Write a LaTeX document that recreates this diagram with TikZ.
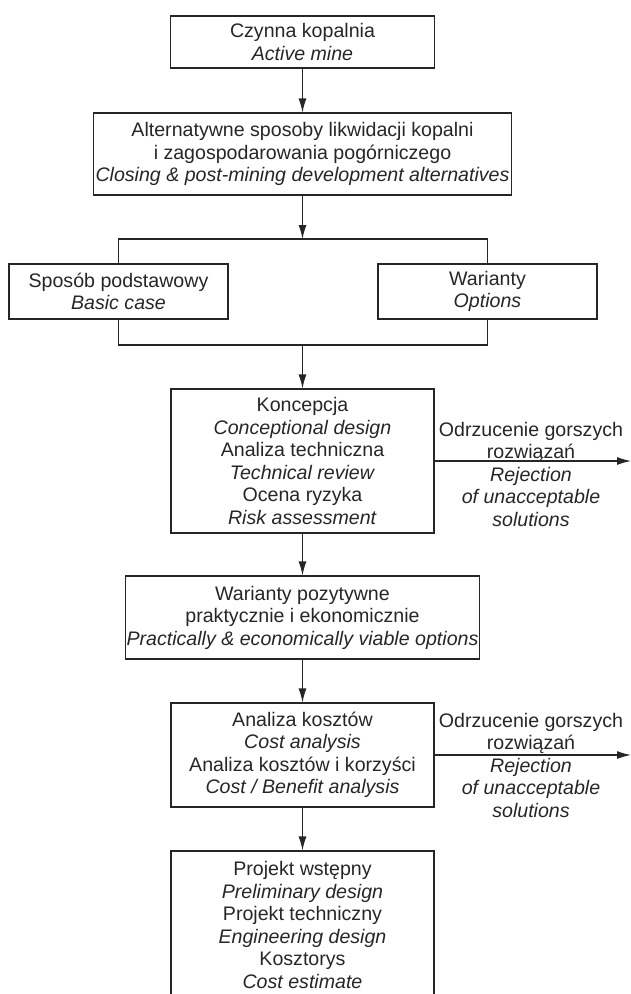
\documentclass[tikz,border=0pt]{standalone}
\usepackage{fontspec}
\setmainfont{Liberation Sans}
\usetikzlibrary{arrows.meta}

\tikzset{
	box/.style={draw,line width=1.2pt,align=center,inner sep=0pt,minimum height=#1},
	box/.default=52pt,
	txt/.style={align=center,inner sep=0pt},
	>={Latex[length=14pt,width=8pt]}
}

\begin{document}
\begin{tikzpicture}[x=1pt,y=-1pt,font=\fontsize{19.6}{22.5}\selectfont,line width=1.2pt,color=black!85]
		\useasboundingbox (0,0) rectangle (631,994);
		\clip (0,0) rectangle (631,994);

		\node[box=52pt,minimum width=264pt] (mine)at(302.5,42){Czynna kopalnia\\\textit{Active mine}};
		\node[box=82pt,minimum width=418pt] (alt)at(302.5,154){Alternatywne sposoby likwidacji kopalni\\i zagospodarowania pogórniczego\\\textit{Closing \& post-mining development alternatives}};

		\node[box=55pt,minimum width=219pt] (basic)at(118.5,291.5){Sposób podstawowy\\\textit{Basic case}};
		\node[box=55pt,minimum width=219pt] (opts)at(487.5,291.5){Warianty\\\textit{Options}};

		\node[box=144pt,minimum width=263pt] (concept)at(302.5,461){Koncepcja\\\textit{Conceptional design}\\Analiza techniczna\\\textit{Technical review}\\Ocena ryzyka\\\textit{Risk assessment}};
		\node[box=83pt,minimum width=354pt] (viable)at(302.5,617.5){Warianty pozytywne\\praktycznie i ekonomicznie\\\textit{Practically \& economically viable options}};
		\node[box=104pt,minimum width=263pt] (cost)at(302.5,755){Analiza kosztów\\\textit{Cost analysis}\\Analiza kosztów i korzyści\\\textit{Cost / Benefit analysis}};
		\node[box=148pt,minimum width=263pt] (design)at(302.5,925){Projekt wstępny\\\textit{Preliminary design}\\Projekt techniczny\\\textit{Engineering design}\\Kosztorys\\\textit{Cost estimate}};

		\node[txt] (rej1)at(531,474){Odrzucenie gorszych\\rozwiązań\\\textit{Rejection}\\\textit{of unacceptable}\\\textit{solutions}};
		\node[txt] (rej2)at(531,765){Odrzucenie gorszych\\rozwiązań\\\textit{Rejection}\\\textit{of unacceptable}\\\textit{solutions}};

		\coordinate (split)at(302.5,239);
		\coordinate (join)at(302.5,345);
		\coordinate (out1)at(631,461);
		\coordinate (out2)at(631,755);

		\draw [->] (mine) -- (alt);
		\draw [->] (alt) -- (split);
		\draw (basic.north) |- (split) -| (opts.north);
		\draw (basic.south) |- (join) -| (opts.south);
		\draw [->] (join) -- (concept);
		\draw [->] (concept) -- (viable);
		\draw [->] (viable) -- (cost);
		\draw [->] (cost) -- (design);
		\draw [->] (concept.east) -- (out1);
		\draw [->] (cost.east) -- (out2);
	\end{tikzpicture}
\end{document}
